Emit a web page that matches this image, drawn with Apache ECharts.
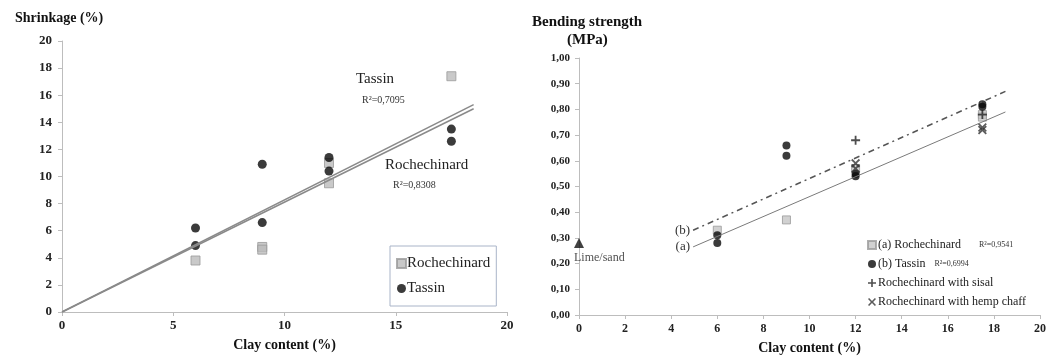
<!DOCTYPE html>
<html>
<head>
<meta charset="utf-8">
<script src="https://cdn.jsdelivr.net/npm/echarts@6/dist/echarts.min.js"></script>
<style>
  html, body { margin: 0; padding: 0; background: #fff; }
  #chart { width: 1050px; height: 360px; }
</style>
</head>
<body>
<div id="chart"></div>
<script>
// left panel: shrinkage
const tassinShrinkX = [6, 6, 9, 9, 12, 12, 17.5, 17.5];
const tassinShrinkY = [6.2, 4.9, 6.6, 10.9, 11.4, 10.4, 13.5, 12.6];
const rocheShrinkX = [6, 9, 9, 12, 12, 17.5];
const rocheShrinkY = [3.8, 4.8, 4.6, 11.0, 9.5, 17.4];
const tassinShrinkFit = [[0, 0], [18.5, 15.3]];
const rocheShrinkFit = [[0, 0], [18.5, 15.0]];

// right panel: bending strength
const limeSand = [[0, 0.28]];
const rocheBendX = [6, 9, 12, 17.5, 17.5];
const rocheBendY = [0.33, 0.37, 0.57, 0.78, 0.77];
const tassinBendX = [6, 6, 9, 9, 12, 12, 17.5, 17.5];
const tassinBendY = [0.31, 0.28, 0.66, 0.62, 0.55, 0.54, 0.82, 0.81];
const sisalX = [12, 17.5];
const sisalY = [0.68, 0.78];
const hempX = [12, 12, 17.5, 17.5];
const hempY = [0.59, 0.57, 0.72, 0.73];
const fitA = [[4.95, 0.265], [18.5, 0.79]];
const fitB = [[4.95, 0.33], [18.5, 0.87]];

const serif = '"Liberation Serif", "DejaVu Serif", serif';
const zip = (xs, ys) => xs.map((x, i) => [x, ys[i]]);

const plusPath = 'path://M4,0 L6,0 L6,4 L10,4 L10,6 L6,6 L6,10 L4,10 L4,6 L0,6 L0,4 L4,4 Z';
const crossPath = 'path://M0,1.4 L1.4,0 L5,3.6 L8.6,0 L10,1.4 L6.4,5 L10,8.6 L8.6,10 L5,6.4 L1.4,10 L0,8.6 L3.6,5 Z';

const axisCommon = {
  axisLine: { lineStyle: { color: '#bdbdbd' } },
  axisTick: { show: true, length: 4, lineStyle: { color: '#bdbdbd' } },
  splitLine: { show: false }
};

// label only on the first point of a fit line
const startLabel = (pts, text) => pts.map((p, i) => i === 0
  ? { value: p, label: { show: true, position: 'left', formatter: text, distance: 3,
      fontFamily: serif, fontSize: 13, color: '#333' } }
  : { value: p, label: { show: false } });

const myChart = echarts.init(document.getElementById('chart'));

const option = {
  animation: false,
  textStyle: { fontFamily: serif, color: '#111' },
  title: [
    { text: 'Shrinkage (%)', left: 10, top: 6,
      textStyle: { fontFamily: serif, fontSize: 14, fontWeight: 'bold', color: '#111' } },
    { text: 'Bending strength', left: 527, top: 10,
      textStyle: { fontFamily: serif, fontSize: 15, fontWeight: 'bold', color: '#111' } },
    { text: '(MPa)', left: 562, top: 28,
      textStyle: { fontFamily: serif, fontSize: 15, fontWeight: 'bold', color: '#111' } }
  ],
  graphic: [
    { type: 'text', left: 356, top: 72, style: { text: 'Tassin', font: '15px ' + serif, fill: '#222' } },
    { type: 'text', left: 362, top: 95, style: { text: 'R²=0,7095', font: '10px ' + serif, fill: '#333' } },
    { type: 'text', left: 385, top: 158, style: { text: 'Rochechinard', font: '15px ' + serif, fill: '#222' } },
    { type: 'text', left: 393, top: 180, style: { text: 'R²=0,8308', font: '10px ' + serif, fill: '#333' } }
  ],
  legend: [
    {
      data: [
        { name: 'Rochechinard', icon: 'rect' },
        { name: 'Tassin', icon: 'circle' }
      ],
      orient: 'vertical',
      left: 390, top: 246,
      padding: [10, 6, 10, 6],
      itemGap: 10,
      itemWidth: 9, itemHeight: 9,
      borderColor: '#a9b4c8', borderWidth: 1,
      textStyle: { fontFamily: serif, fontSize: 15, color: '#222', padding: [0, 0, 0, -4] }
    },
    {
      data: [
        { name: '(a) Rochechinard', icon: 'rect' },
        { name: '(b) Tassin', icon: 'circle' },
        { name: 'Rochechinard with sisal', icon: plusPath },
        { name: 'Rochechinard with hemp chaff', icon: crossPath }
      ],
      orient: 'vertical',
      left: 862, top: 234,
      itemGap: 7,
      itemWidth: 8, itemHeight: 8,
      textStyle: { fontFamily: serif, fontSize: 12, color: '#222', padding: [0, 0, 0, -3],
        rich: { r: { fontSize: 8, fontFamily: serif, color: '#333' } } },
      formatter: function (name) {
        if (name === '(a) Rochechinard') return name + '      {r|R²=0,9541}';
        if (name === '(b) Tassin') return name + '   {r|R²=0,6994}';
        return name;
      }
    }
  ],
  grid: [
    { left: 62, right: 543, top: 41, bottom: 48 },
    { left: 579, right: 10, top: 58, bottom: 40 }
  ],
  xAxis: [
    Object.assign({
      gridIndex: 0, type: 'value', min: 0, max: 20, interval: 5,
      name: 'Clay content (%)', nameLocation: 'middle', nameGap: 26,
      nameTextStyle: { fontFamily: serif, fontSize: 14, fontWeight: 'bold', color: '#111' },
      axisLabel: { fontFamily: serif, fontSize: 13, fontWeight: 'bold', color: '#222', margin: 7 }
    }, axisCommon),
    Object.assign({
      gridIndex: 1, type: 'value', min: 0, max: 20, interval: 2,
      name: 'Clay content (%)', nameLocation: 'middle', nameGap: 26,
      nameTextStyle: { fontFamily: serif, fontSize: 14, fontWeight: 'bold', color: '#111' },
      axisLabel: { fontFamily: serif, fontSize: 12, fontWeight: 'bold', color: '#222', margin: 8 }
    }, axisCommon)
  ],
  yAxis: [
    Object.assign({
      gridIndex: 0, type: 'value', min: 0, max: 20, interval: 2,
      axisLabel: { fontFamily: serif, fontSize: 13, fontWeight: 'bold', color: '#222', margin: 10 }
    }, axisCommon),
    Object.assign({
      gridIndex: 1, type: 'value', min: 0, max: 1, interval: 0.1,
      axisLabel: { fontFamily: serif, fontSize: 11, fontWeight: 'bold', color: '#222', margin: 9,
        formatter: v => v.toFixed(2).replace('.', ',') }
    }, axisCommon)
  ],
  series: [
    // left panel
    {
      name: 'Tassin fit', type: 'line', xAxisIndex: 0, yAxisIndex: 0,
      data: tassinShrinkFit, showSymbol: false, silent: true,
      lineStyle: { color: '#8a8a8a', width: 1.5 }
    },
    {
      name: 'Rochechinard fit', type: 'line', xAxisIndex: 0, yAxisIndex: 0,
      data: rocheShrinkFit, showSymbol: false, silent: true,
      lineStyle: { color: '#8a8a8a', width: 1.5 }
    },
    {
      name: 'Rochechinard', type: 'scatter', xAxisIndex: 0, yAxisIndex: 0,
      data: zip(rocheShrinkX, rocheShrinkY), symbol: 'rect', symbolSize: 9,
      itemStyle: { color: '#bcbcbc', borderColor: '#9a9a9a', borderWidth: 1 }
    },
    {
      name: 'Tassin', type: 'scatter', xAxisIndex: 0, yAxisIndex: 0,
      data: zip(tassinShrinkX, tassinShrinkY), symbol: 'circle', symbolSize: 9,
      itemStyle: { color: '#0a0a0a' }
    },
    // right panel
    {
      name: 'fit a', type: 'line', xAxisIndex: 1, yAxisIndex: 1,
      data: startLabel(fitA, '(a)'),
      showSymbol: true, symbol: 'circle', symbolSize: 0.1, silent: true,
      itemStyle: { color: '#7a7a7a' },
      lineStyle: { color: '#7a7a7a', width: 1 }
    },
    {
      name: 'fit b', type: 'line', xAxisIndex: 1, yAxisIndex: 1,
      data: startLabel(fitB, '(b)'),
      showSymbol: true, symbol: 'circle', symbolSize: 0.1, silent: true,
      itemStyle: { color: '#555' },
      lineStyle: { color: '#555', width: 1.5, type: [6, 4, 2, 4] }
    },
    {
      name: 'Lime/sand', type: 'scatter', xAxisIndex: 1, yAxisIndex: 1,
      data: limeSand, symbol: 'triangle', symbolSize: 10,
      itemStyle: { color: '#111' },
      label: { show: true, position: [0, 14], formatter: 'Lime/sand',
        fontFamily: serif, fontSize: 12, color: '#222' }
    },
    {
      name: '(a) Rochechinard', type: 'scatter', xAxisIndex: 1, yAxisIndex: 1,
      data: zip(rocheBendX, rocheBendY), symbol: 'rect', symbolSize: 8,
      itemStyle: { color: '#c6c6c6', borderColor: '#9a9a9a', borderWidth: 1 }
    },
    {
      name: '(b) Tassin', type: 'scatter', xAxisIndex: 1, yAxisIndex: 1,
      data: zip(tassinBendX, tassinBendY), symbol: 'circle', symbolSize: 8,
      itemStyle: { color: '#0a0a0a' }
    },
    {
      name: 'Rochechinard with sisal', type: 'scatter', xAxisIndex: 1, yAxisIndex: 1,
      data: zip(sisalX, sisalY), symbol: plusPath, symbolSize: 9,
      itemStyle: { color: '#222' }
    },
    {
      name: 'Rochechinard with hemp chaff', type: 'scatter', xAxisIndex: 1, yAxisIndex: 1,
      data: zip(hempX, hempY), symbol: crossPath, symbolSize: 9,
      itemStyle: { color: '#333' }
    }
  ]
};

myChart.setOption(option);
</script>
</body>
</html>
